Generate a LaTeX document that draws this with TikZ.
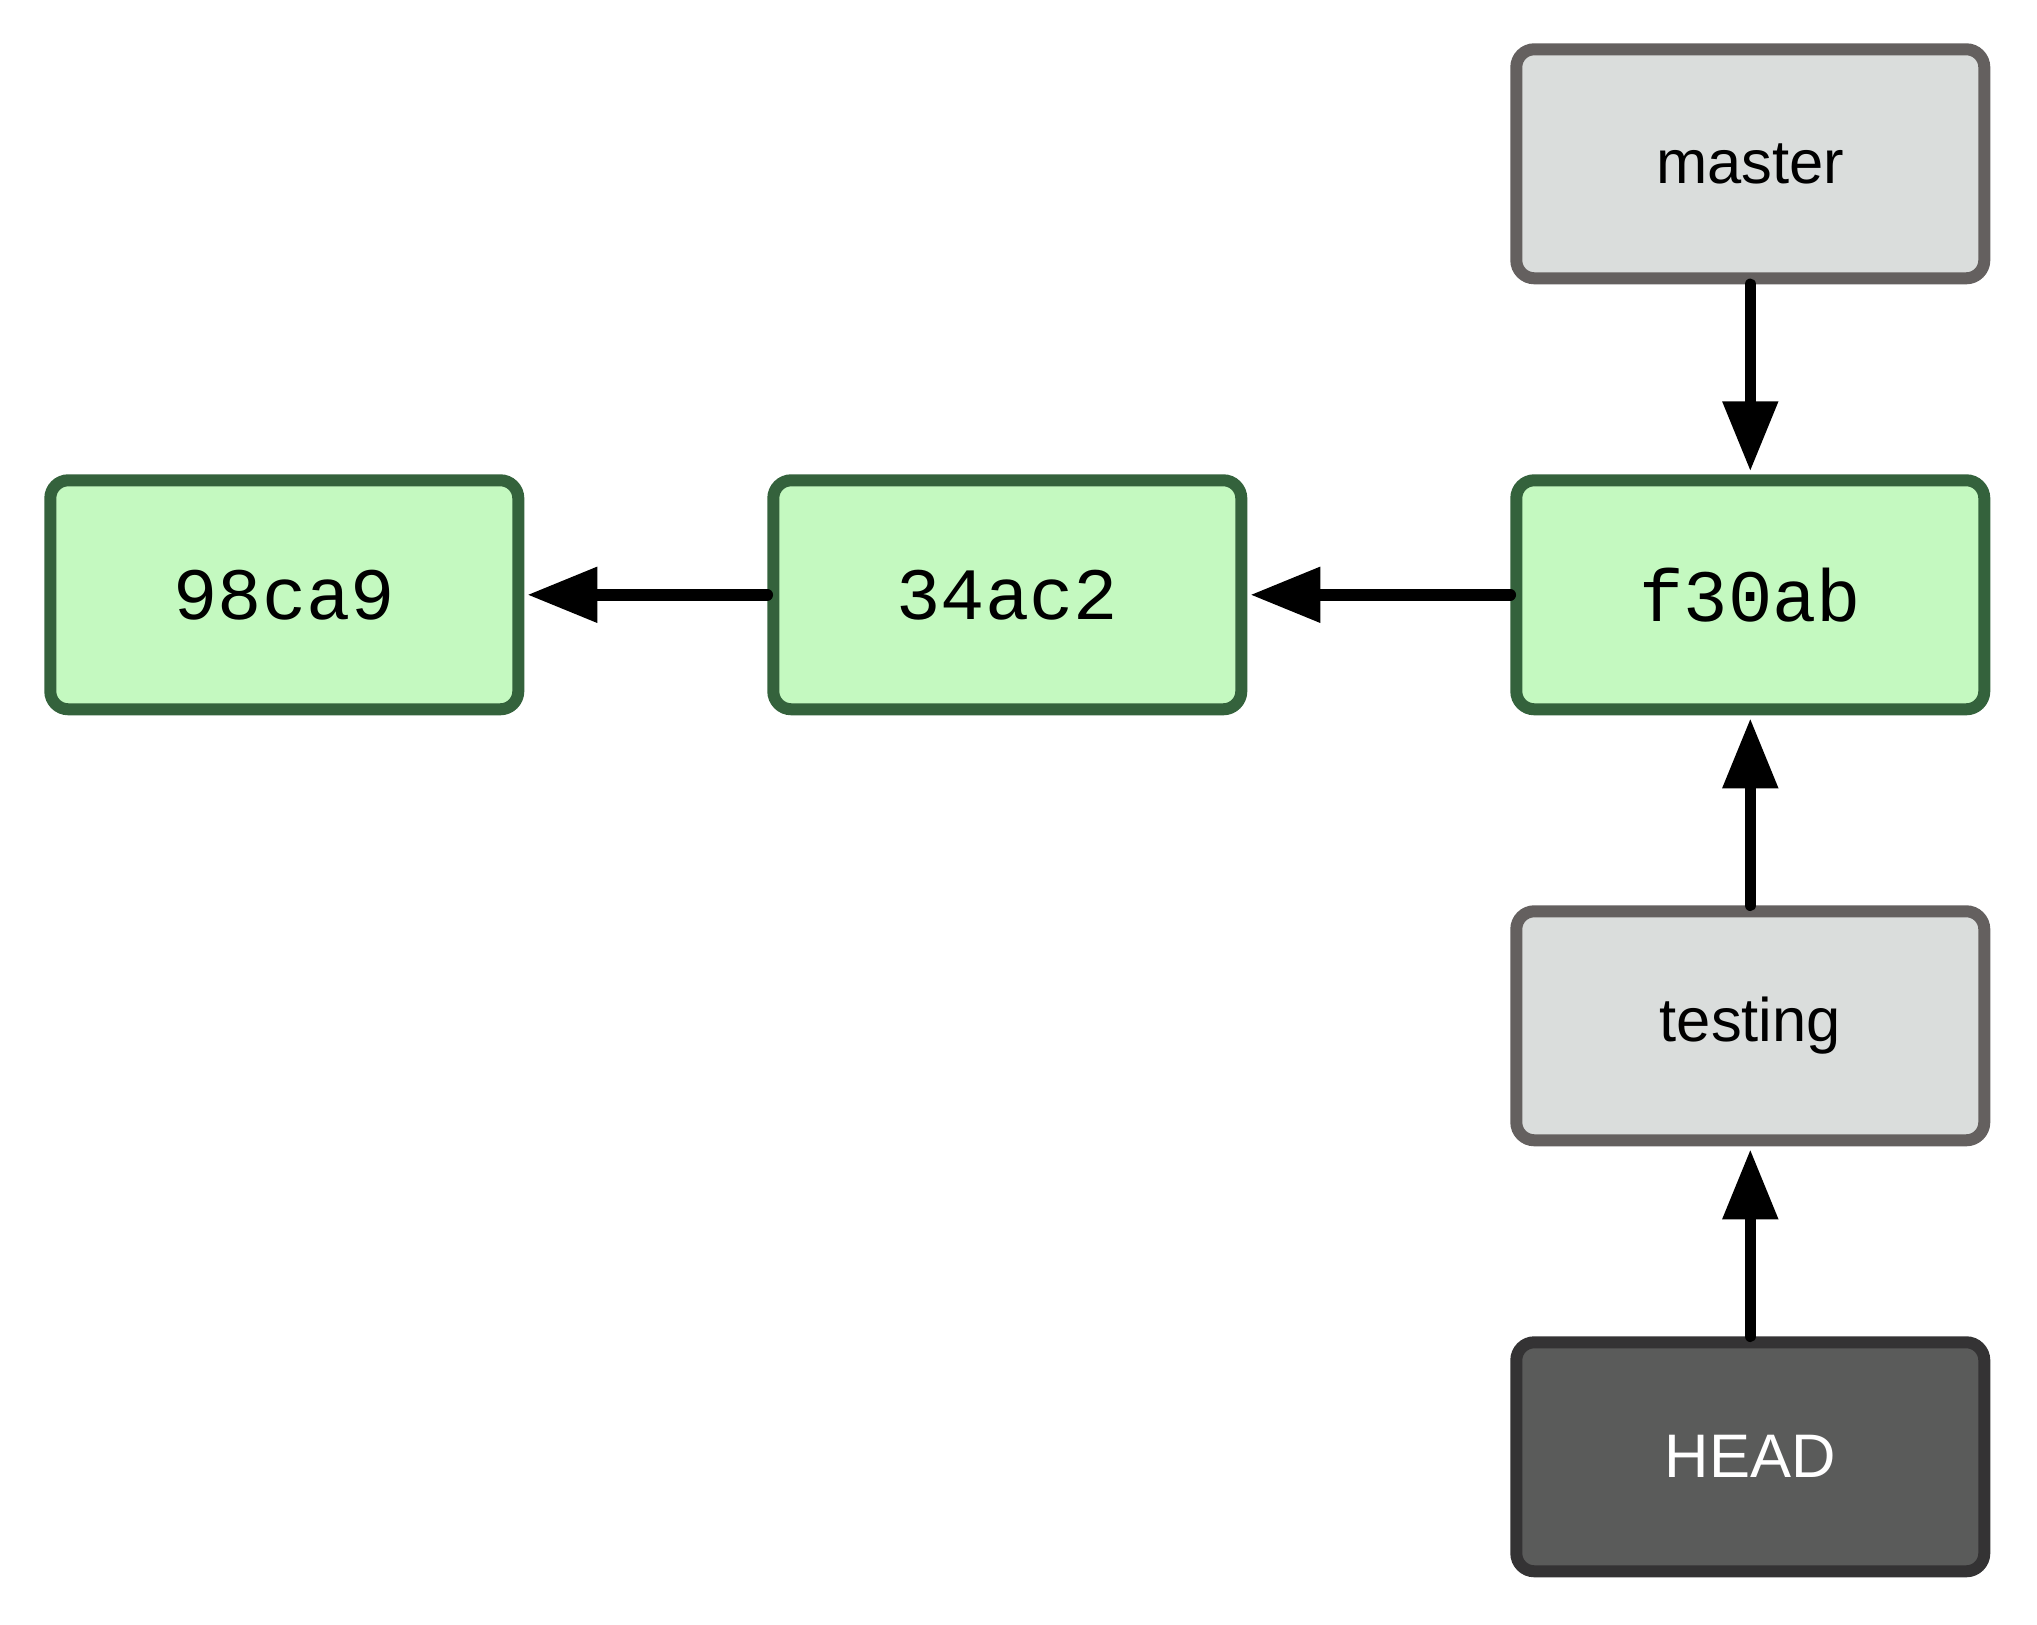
\documentclass[tikz,border=0pt]{standalone}
\usepackage{fontspec}
\setmainfont{Liberation Sans}
\setmonofont{Liberation Mono}
\usetikzlibrary{positioning, arrows.meta}

\definecolor{commitfill}{RGB}{196,249,192}
\definecolor{commitline}{RGB}{52,98,60}
\definecolor{branchfill}{RGB}{218,221,220}
\definecolor{branchline}{RGB}{100,96,95}
\definecolor{headfill}{RGB}{90,91,90}
\definecolor{headline}{RGB}{52,51,52}

\begin{document}
\begin{tikzpicture}[
    node distance=1.9cm,
    box/.style={draw, line width=0.12cm, rounded corners=0.18cm,
                minimum width=4.68cm, minimum height=2.29cm, inner sep=0pt},
    commit/.style={box, fill=commitfill, draw=commitline,
                   font=\ttfamily\fontsize{21}{25}\selectfont},
    branch/.style={box, fill=branchfill, draw=branchline,
                   font=\fontsize{17.5}{21}\selectfont},
    head/.style={box, fill=headfill, draw=headline, text=white,
                 font=\fontsize{17.5}{21}\selectfont},
    every edge/.style={draw, line width=0.115cm, line cap=round,
                       -{Triangle[length=0.70cm, width=0.53cm]}, shorten >=0.03cm},
]
  \useasboundingbox (0,0) rectangle (20.37,16.24);
  \node[commit] (c98ca9) at (2.843,10.292) {98ca9};
  \node[commit, right=2.43cm of c98ca9] (c34ac2) {34ac2};
  \node[commit, right=2.63cm of c34ac2] (cf30ab) {f30ab};
  \node[branch, above=of cf30ab] (master) {master};
  \node[branch, below=of cf30ab] (testing) {testing};
  \node[head, below=of testing] (head) {HEAD};
  \path (c34ac2) edge (c98ca9);
  \path (cf30ab) edge (c34ac2);
  \path (master) edge (cf30ab);
  \path (testing) edge (cf30ab);
  \path (head) edge (testing);
\end{tikzpicture}
\end{document}
